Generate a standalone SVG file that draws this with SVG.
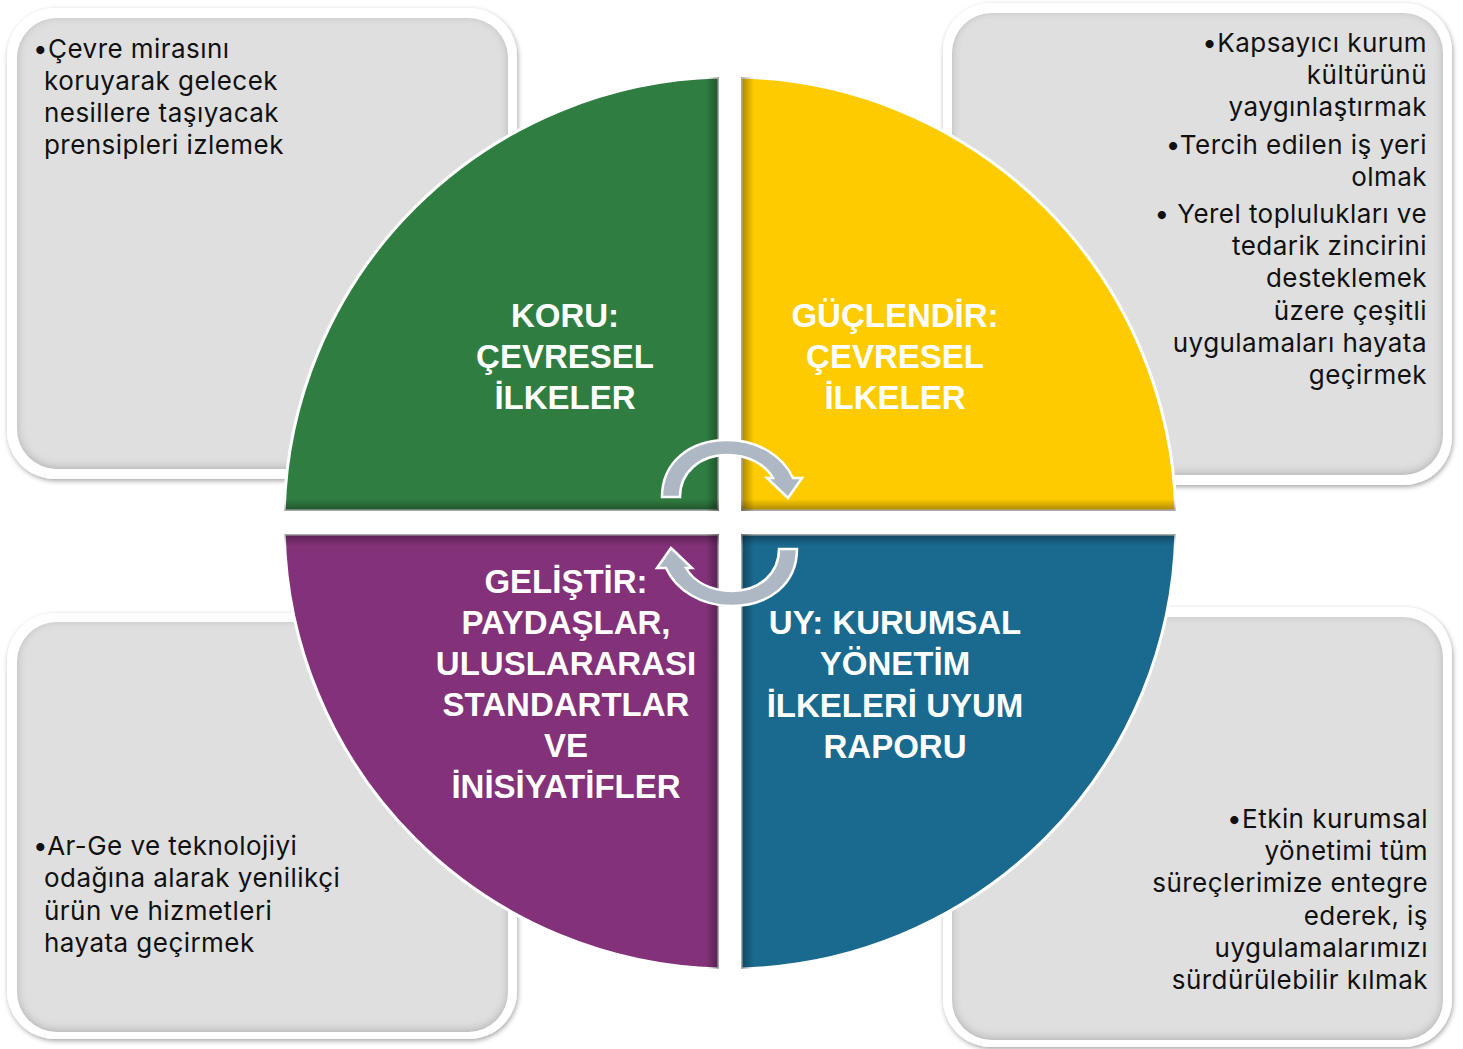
<svg xmlns="http://www.w3.org/2000/svg" width="1463" height="1049" viewBox="0 0 1463 1049">
<style>
.body{font-family:Inter,"Noto Sans",sans-serif;font-size:26px;letter-spacing:0.45px;fill:#111}
.end{text-anchor:end}
.title{font-family:"Liberation Sans",Arial,sans-serif;font-weight:bold;font-size:33px;fill:#fff;text-anchor:middle}
.frame{fill:#fff;filter:url(#drop)}
.panel{fill:#dfdfdf;filter:url(#inset)}
.quad{stroke:#fff;stroke-width:3}
.arrow{fill:#adb8c4;stroke:#fff;stroke-width:2.5;stroke-linejoin:miter}
</style>
<defs>
<filter id="drop" x="-5%" y="-5%" width="110%" height="112%">
<feDropShadow dx="1" dy="2" stdDeviation="2.5" flood-color="#000" flood-opacity="0.35"/>
</filter>
<filter id="inset" x="-5%" y="-5%" width="110%" height="110%">
<feFlood flood-color="#000" flood-opacity="0.4" result="f"/>
<feComposite in="f" in2="SourceAlpha" operator="out" result="outside"/>
<feGaussianBlur in="outside" stdDeviation="4" result="b"/>
<feOffset in="b" dx="0" dy="-2" result="o"/>
<feComposite in="o" in2="SourceAlpha" operator="in" result="inner"/>
<feMerge><feMergeNode in="SourceGraphic"/><feMergeNode in="inner"/></feMerge>
</filter>
<linearGradient id="toR" x1="0" y1="0" x2="1" y2="0"><stop offset="0" stop-color="#000" stop-opacity="0"/><stop offset="1" stop-color="#000" stop-opacity="0.35"/></linearGradient>
<linearGradient id="toL" x1="1" y1="0" x2="0" y2="0"><stop offset="0" stop-color="#000" stop-opacity="0"/><stop offset="1" stop-color="#000" stop-opacity="0.35"/></linearGradient>
<linearGradient id="toB" x1="0" y1="0" x2="0" y2="1"><stop offset="0" stop-color="#000" stop-opacity="0"/><stop offset="1" stop-color="#000" stop-opacity="0.35"/></linearGradient>
<linearGradient id="toT" x1="0" y1="1" x2="0" y2="0"><stop offset="0" stop-color="#000" stop-opacity="0"/><stop offset="1" stop-color="#000" stop-opacity="0.35"/></linearGradient>
<path id="pTL" d="M719,511 L284.2,511 A446,446 0 0 1 719,77.1 Z"/>
<path id="pTR" d="M741,511 L741,77.1 A446,446 0 0 1 1175.8,511 Z"/>
<path id="pBR" d="M741,534 L1175.8,534 A446,446 0 0 1 741,968.9 Z"/>
<path id="pBL" d="M719,534 L719,968.9 A446,446 0 0 1 284.2,534 Z"/>
<clipPath id="cTL"><use href="#pTL"/></clipPath>
<clipPath id="cTR"><use href="#pTR"/></clipPath>
<clipPath id="cBR"><use href="#pBR"/></clipPath>
<clipPath id="cBL"><use href="#pBL"/></clipPath>
</defs>

<g id="box-tl">
<rect class="frame" x="7" y="8" width="510" height="471" rx="48"/>
<rect class="panel" x="17" y="18" width="491" height="451" rx="40"/>
<text class="body" x="33" y="58">•Çevre mirasını</text>
<text class="body" x="44" y="90">koruyarak gelecek</text>
<text class="body" x="44" y="122">nesillere taşıyacak</text>
<text class="body" x="44" y="154">prensipleri izlemek</text>
</g>

<g id="box-tr">
<rect class="frame" x="943" y="3" width="509" height="482" rx="48"/>
<rect class="panel" x="952" y="13" width="491" height="462" rx="40"/>
<text class="body end" x="1427" y="52">•Kapsayıcı kurum</text>
<text class="body end" x="1427" y="84">kültürünü</text>
<text class="body end" x="1427" y="116">yaygınlaştırmak</text>
<text class="body end" x="1427" y="154">•Tercih edilen iş yeri</text>
<text class="body end" x="1427" y="186">olmak</text>
<text class="body end" x="1427" y="223">• Yerel toplulukları ve</text>
<text class="body end" x="1427" y="255">tedarik zincirini</text>
<text class="body end" x="1427" y="287">desteklemek</text>
<text class="body end" x="1427" y="320">üzere çeşitli</text>
<text class="body end" x="1427" y="352">uygulamaları hayata</text>
<text class="body end" x="1427" y="384">geçirmek</text>
</g>

<g id="box-bl">
<rect class="frame" x="7" y="613" width="510" height="426" rx="48"/>
<rect class="panel" x="17" y="622" width="491" height="410" rx="40"/>
<text class="body" x="33" y="855">•Ar-Ge ve teknolojiyi</text>
<text class="body" x="44" y="887">odağına alarak yenilikçi</text>
<text class="body" x="44" y="920">ürün ve hizmetleri</text>
<text class="body" x="44" y="952">hayata geçirmek</text>
</g>

<g id="box-br">
<rect class="frame" x="943" y="607" width="509" height="440" rx="48"/>
<rect class="panel" x="952" y="617" width="491" height="423" rx="40"/>
<text class="body end" x="1428" y="828">•Etkin kurumsal</text>
<text class="body end" x="1428" y="860">yönetimi tüm</text>
<text class="body end" x="1428" y="892">süreçlerimize entegre</text>
<text class="body end" x="1428" y="925">ederek, iş</text>
<text class="body end" x="1428" y="957">uygulamalarımızı</text>
<text class="body end" x="1428" y="989">sürdürülebilir kılmak</text>
</g>

<g id="quad-koru">
<use href="#pTL" class="quad" fill="#2f7d41"/>
<g clip-path="url(#cTL)">
<rect x="706" y="70" width="13" height="441" fill="url(#toR)"/>
<rect x="280" y="499" width="439" height="12" fill="url(#toB)"/>
</g>
<text class="title" x="565" y="327">KORU:</text>
<text class="title" x="565" y="368">ÇEVRESEL</text>
<text class="title" x="565" y="409">İLKELER</text>
</g>

<g id="quad-guclendir">
<use href="#pTR" class="quad" fill="#fecb00"/>
<g clip-path="url(#cTR)">
<rect x="741" y="70" width="13" height="441" fill="url(#toL)"/>
<rect x="741" y="499" width="439" height="12" fill="url(#toB)"/>
</g>
<text class="title" x="895" y="327">GÜÇLENDİR:</text>
<text class="title" x="895" y="368">ÇEVRESEL</text>
<text class="title" x="895" y="409">İLKELER</text>
</g>

<g id="quad-uy">
<use href="#pBR" class="quad" fill="#1a6a8f"/>
<g clip-path="url(#cBR)">
<rect x="741" y="534" width="13" height="440" fill="url(#toL)"/>
<rect x="741" y="534" width="439" height="12" fill="url(#toT)"/>
</g>
<text class="title" x="895" y="634">UY: KURUMSAL</text>
<text class="title" x="895" y="675">YÖNETİM</text>
<text class="title" x="895" y="717">İLKELERİ UYUM</text>
<text class="title" x="895" y="758">RAPORU</text>
</g>

<g id="quad-gelistir">
<use href="#pBL" class="quad" fill="#833179"/>
<g clip-path="url(#cBL)">
<rect x="706" y="534" width="13" height="440" fill="url(#toR)"/>
<rect x="280" y="534" width="439" height="12" fill="url(#toT)"/>
</g>
<text class="title" x="566" y="593">GELİŞTİR:</text>
<text class="title" x="566" y="634">PAYDAŞLAR,</text>
<text class="title" x="566" y="675">ULUSLARARASI</text>
<text class="title" x="566" y="716">STANDARTLAR</text>
<text class="title" x="566" y="757">VE</text>
<text class="title" x="566" y="798">İNİSİYATİFLER</text>
</g>

<g id="connectors">
<path id="arrow-top" class="arrow" d="M662,497 C662,462 690,440 727,440 C758,440 783,456 793,478 L802,478 L788,498 L767,478 L773,478 C765,464 748,455 727,455 C699,455 680,473 680,497 Z"/>
<path id="arrow-bottom" class="arrow" transform="rotate(180 729.5 523)" d="M662,497 C662,462 690,440 727,440 C758,440 783,456 793,478 L802,478 L788,498 L767,478 L773,478 C765,464 748,455 727,455 C699,455 680,473 680,497 Z"/>
</g>
</svg>
